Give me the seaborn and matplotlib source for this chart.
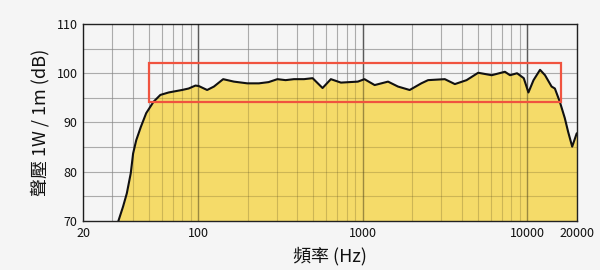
import matplotlib
matplotlib.use("Agg")
import matplotlib.pyplot as plt
import matplotlib.patches as patches
import matplotlib.ticker as mticker
import seaborn as sns
import pandas as pd

# ---- data ----
freq_hz = [32.8, 35.0, 36.9, 39.0, 40.3, 42.1, 44.9, 48.4, 53.6, 59.0, 66.3,
           79.8, 87.6, 96.4, 101, 113.5, 124.8, 142, 165, 199, 234, 268, 303,
           340, 382, 440, 496, 570, 640, 737, 934, 1024, 1181, 1424, 1636,
           1927, 2267, 2492, 3149, 3626, 4270, 5024, 6067, 7297, 7840, 8650,
           9500, 10140, 10890, 11930, 12790, 14020, 14680, 15730, 16860,
           17670, 18700, 19920, 20000]
spl_db = [70.0, 72.9, 75.6, 79.7, 83.7, 86.4, 89.1, 91.9, 94.2, 95.6, 96.1,
          96.6, 96.9, 97.5, 97.4, 96.6, 97.3, 98.8, 98.3, 97.95, 97.95, 98.2, 98.8,
          98.6, 98.8, 98.8, 99.0, 97.0, 98.8, 98.1, 98.3, 98.8, 97.6, 98.3, 97.3,
          96.6, 97.95, 98.6, 98.8, 97.8, 98.6, 100.1, 99.6, 100.3, 99.6, 100.0,
          99.0, 96.1, 98.6, 100.7, 99.6, 97.3, 96.9, 94.2, 90.9,
          88.1, 85.1, 87.8, 87.8]

x_ticks = [20, 100, 1000, 10000, 20000]
x_tick_labels = ["20", "100", "1000", "10000", "20000"]
y_ticks = [70, 80, 90, 100, 110]
highlight_freq = [50, 16000]
highlight_db = [94.2, 102.1]

x_label = "頻率 (Hz)"
y_label = "聲壓 1W / 1m (dB)"

# ---- style ----
sns.set_theme(style="white")
plt.rcParams["font.family"] = ["Noto Sans CJK TC", "DejaVu Sans"]

bg = "#f5f5f5"
fig = plt.figure(figsize=(6, 2.7), dpi=100, facecolor=bg)
ax = fig.add_axes([83/600, 1 - 221/270, (577-83)/600, (221-24)/270])
ax.set_facecolor(bg)

df = pd.DataFrame({"freq": freq_hz, "spl": spl_db})

ax.set_xscale("log")
ax.set_xlim(20, 20000)
ax.set_ylim(70, 110)

# grid
minor_x = [m * 10**e for e in range(1, 5) for m in range(1, 10)
           if 20 <= m * 10**e <= 20000]
for f in minor_x:
    major = f in (100, 1000, 10000)
    ax.axvline(f, color="#8a8a8a" if major else "#c9c9c9",
               lw=1.0 if major else 0.8, zorder=1)
for d in range(75, 110, 5):
    ax.axhline(d, color="#c9c9c9", lw=0.8, zorder=1)

ax.fill_between(df["freq"], df["spl"], 70, color="#f6d95e", alpha=0.93,
                zorder=2, lw=0)
sns.lineplot(data=df, x="freq", y="spl", ax=ax, color="#111111", lw=1.5,
             zorder=4)

# grid lines faintly visible through the fill
for f in minor_x:
    major = f in (100, 1000, 10000)
    ax.axvline(f, color="#000000", alpha=0.35 if major else 0.15,
               lw=1.0 if major else 0.8, zorder=3)
for d in range(75, 110, 5):
    ax.axhline(d, color="#000000", alpha=0.15, lw=0.8, zorder=3)

rect = patches.Rectangle((highlight_freq[0], highlight_db[0]),
                         highlight_freq[1] - highlight_freq[0],
                         highlight_db[1] - highlight_db[0],
                         fill=False, edgecolor="#f0533f", lw=1.6, zorder=5)
ax.add_patch(rect)

ax.xaxis.set_major_locator(mticker.FixedLocator(x_ticks))
ax.xaxis.set_major_formatter(mticker.FixedFormatter(x_tick_labels))
ax.xaxis.set_minor_locator(mticker.NullLocator())
ax.set_yticks(y_ticks)
ax.tick_params(axis="both", length=0, labelsize=9, colors="#111111", pad=4)
for lbl in ax.get_xticklabels() + ax.get_yticklabels():
    lbl.set_fontweight("medium")

for s in ax.spines.values():
    s.set_color("#222222")
    s.set_linewidth(1.0)

ax.set_xlabel(x_label, fontsize=13, color="#111111", labelpad=5)
ax.set_ylabel(y_label, fontsize=13, color="#111111", labelpad=5)

fig.savefig("out.png", dpi=100, facecolor=bg)
